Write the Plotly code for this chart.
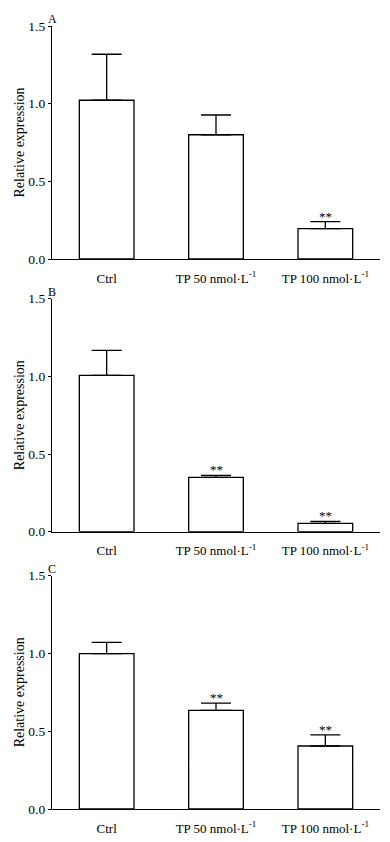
import plotly.graph_objects as go

categories = ["Ctrl", "TP 50 nmol·L<sup>-1</sup>", "TP 100 nmol·L<sup>-1</sup>"]
panel_labels = ["A", "B", "C"]
means_A = [1.022, 0.80, 0.195]
errs_A = [0.296, 0.127, 0.045]
means_B = [1.006, 0.35, 0.054]
errs_B = [0.161, 0.013, 0.013]
means_C = [0.999, 0.634, 0.405]
errs_C = [0.072, 0.047, 0.071]
sig_A = ["", "", "**"]
sig_B = ["", "**", "**"]
sig_C = ["", "**", "**"]
y_ticks = [0.0, 0.5, 1.0, 1.5]
y_ticktext = ["0.0", "0.5", "1.0", "1.5"]

panels = [(means_A, errs_A, sig_A), (means_B, errs_B, sig_B), (means_C, errs_C, sig_C)]

# the page body has an 8px default margin, so the figure is drawn 8px in
W, H = 382, 834
mt, mb = 10, 10
plot_h = H - mt - mb
pix = [(18, 251), (290.7, 523.7), (567.7, 801)]
domains = [[(H - mb - b) / plot_h, (H - mb - t) / plot_h] for t, b in pix]

FONT = "Liberation Serif"
fig = go.Figure()
for i, (m, e, s) in enumerate(panels):
    n = "" if i == 0 else str(i + 1)
    fig.add_trace(go.Bar(
        x=list(range(len(categories))), y=m,
        width=0.5,
        marker=dict(color="white", line=dict(color="black", width=1.3)),
        error_y=dict(type="data", array=e, symmetric=False, arrayminus=[0] * len(e),
                     color="black", thickness=1.3, width=15),
        xaxis="x" + n, yaxis="y" + n, showlegend=False, hoverinfo="skip",
    ))
    for j, lab in enumerate(s):
        if lab:
            fig.add_annotation(x=j, y=m[j] + e[j], xref="x" + n, yref="y" + n,
                               text=lab, showarrow=False, yanchor="bottom",
                               yshift=-4, font=dict(family=FONT, size=13, color="black"))
    fig.add_annotation(x=0, y=1, xref=("x" + n + " domain"), yref=("y" + n + " domain"),
                       text=panel_labels[i], showarrow=False, xanchor="center",
                       yanchor="bottom", xshift=0, yshift=-2,
                       font=dict(family=FONT, size=12, color="black"))
    ax = dict(
        range=[-0.5, 2.5], tickmode="array", tickvals=list(range(len(categories))),
        ticktext=categories, showline=True, linecolor="black", linewidth=1.3,
        ticks="", showgrid=False, zeroline=False, anchor="y" + n, automargin=False,
        ticklabelstandoff=7,
        tickfont=dict(family=FONT, size=13, color="black"), fixedrange=True,
    )
    ay = dict(
        domain=domains[i], range=[0, 1.5], tickmode="array", tickvals=y_ticks,
        ticktext=y_ticktext, showline=True, linecolor="black", linewidth=1.3,
        ticks="outside", ticklen=3, tickcolor="black", tickwidth=1.3,
        showgrid=False, zeroline=False,
        anchor="x" + n, automargin=False,
        tickfont=dict(family=FONT, size=13.5, color="black"),
        title=dict(text="Relative expression", font=dict(family=FONT, size=14, color="black"),
                   standoff=0),
    )
    fig.update_layout(**{"xaxis" + n: ax, "yaxis" + n: ay})

fig.update_layout(
    width=W, height=H,
    margin=dict(l=44, r=10, t=mt, b=mb, autoexpand=False),
    paper_bgcolor="white", plot_bgcolor="white",
    bargap=0.5,
)
fig.write_html("out.html")
